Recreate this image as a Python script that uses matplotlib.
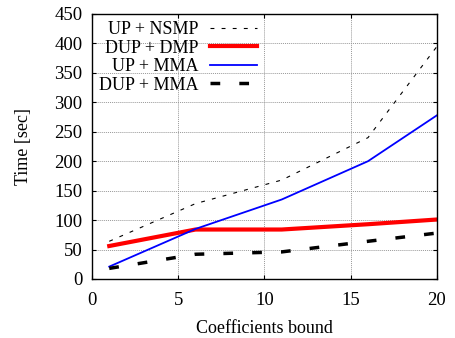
import matplotlib
matplotlib.use("Agg")
import matplotlib.pyplot as plt

# coefficient bounds and timings (seconds)
bounds = [1, 6, 11, 16, 20]
up_nsmp = [64, 128, 168, 240, 395]
dup_dmp = [56, 84, 84, 93, 101]
up_mma = [21, 85, 135, 200, 278]
dup_mma = [18, 42, 46, 64, 78]

plt.rcParams['font.family'] = ['Liberation Serif', 'DejaVu Serif']
plt.rcParams['font.size'] = 13.5

fig = plt.figure(figsize=(4.55, 3.38), dpi=100)
ax = fig.add_axes([0.2022, 0.1746, 0.7582, 0.784])

ax.plot(bounds, up_nsmp, color='black', lw=0.8, dashes=(3.5, 6.5), label='UP + NSMP')
ax.plot(bounds, dup_dmp, color='red', lw=3.0, label='DUP + DMP')
ax.plot(bounds, up_mma, color='blue', lw=1.3, label='UP + MMA')
ax.plot(bounds, dup_mma, color='black', lw=2.5, dashes=(2.8, 5.5), label='DUP + MMA')

ax.set_xlim(0, 20)
ax.set_ylim(0, 450)
ax.set_xticks(range(0, 21, 5))
ax.set_yticks(range(0, 451, 50))
ax.grid(True, color='#999999', linestyle=(0, (1, 1)), lw=0.7)
ax.tick_params(direction='in', top=True, right=True, length=3)
ax.tick_params(axis='x', pad=9.5)
ax.tick_params(axis='y', pad=7)
for s in ax.spines.values():
    s.set_linewidth(1.0)

ax.set_xlabel('Coefficients bound', fontsize=13, labelpad=8)
ax.set_ylabel('Time [sec]', fontsize=13, labelpad=16)

leg = ax.legend(loc='upper left', markerfirst=False, frameon=False,
                handlelength=2.6, borderaxespad=0.0, borderpad=0.4,
                labelspacing=0.08, fontsize=13, handletextpad=0.6)
for t in leg.get_texts():
    t.set_ha('right')

fig.savefig('out.png', dpi=100)
